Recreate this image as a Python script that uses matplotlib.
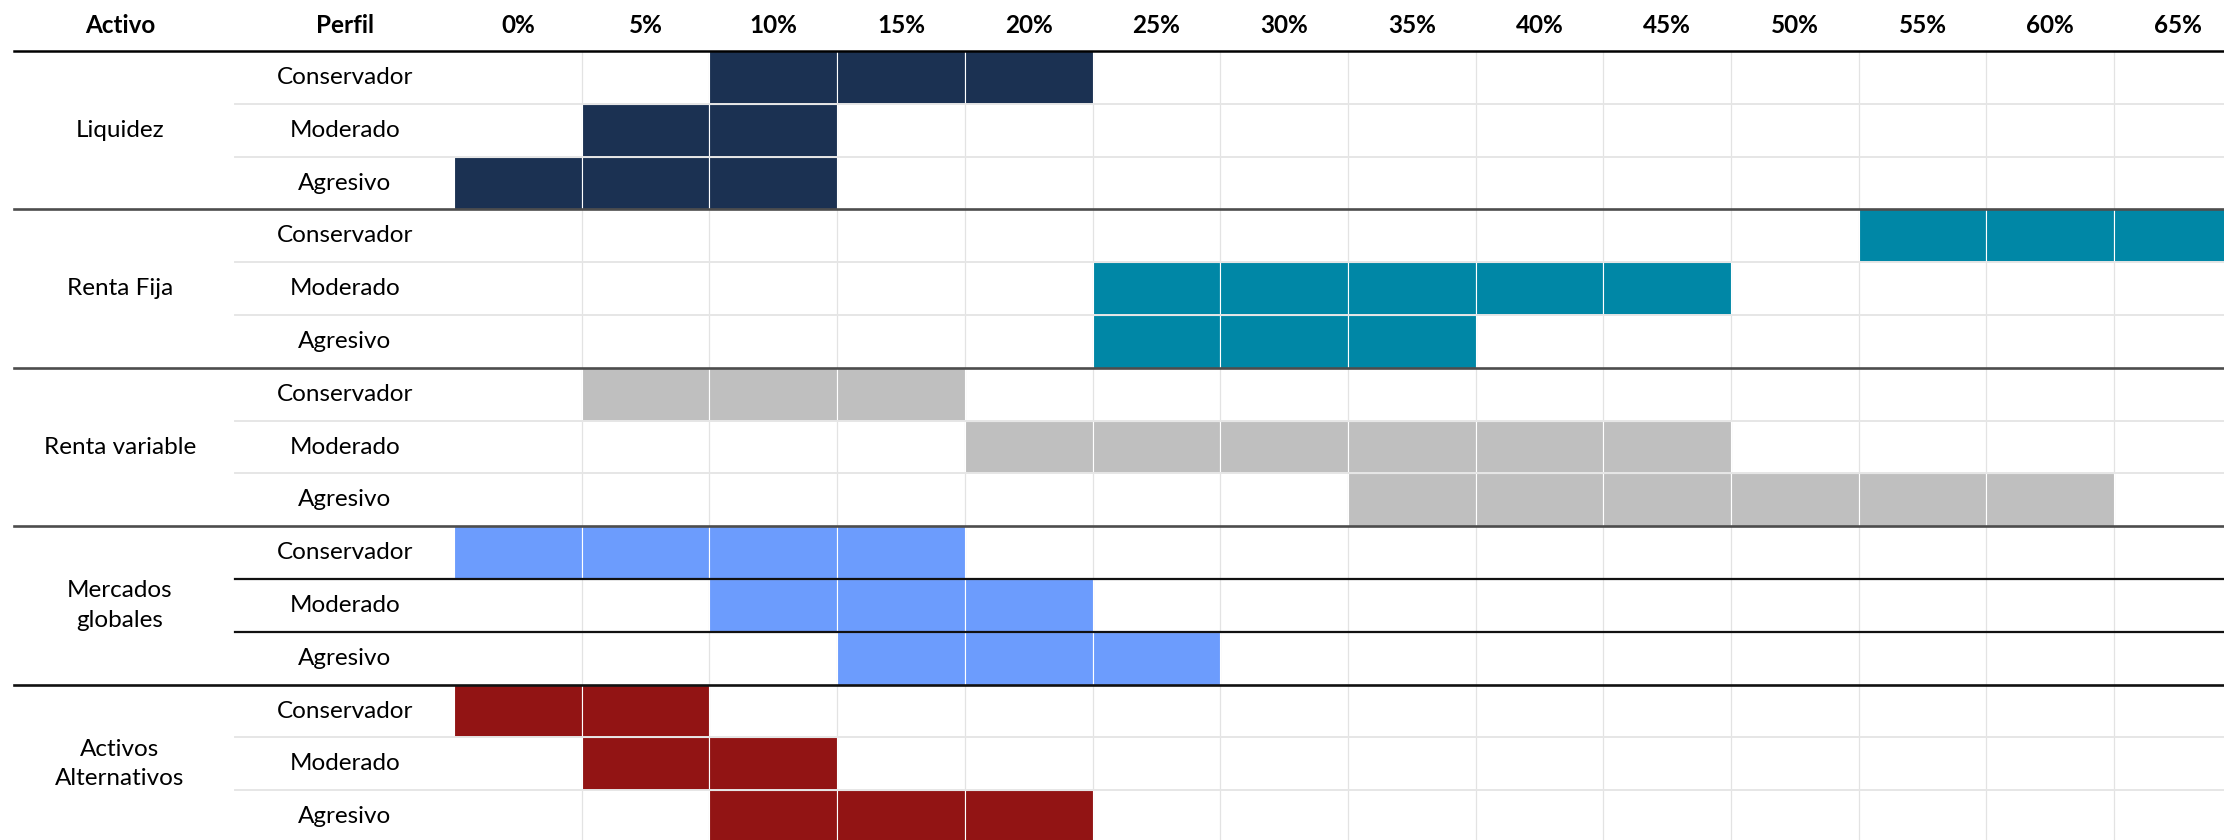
import matplotlib.pyplot as plt

plt.rcParams['font.family'] = ['Lato', 'DejaVu Sans']

assets = ['Liquidez', 'Renta Fija', 'Renta variable', 'Mercados\nglobales', 'Activos\nAlternativos']
profiles = ['Conservador', 'Moderado', 'Agresivo']
pct_labels = ['0%', '5%', '10%', '15%', '20%', '25%', '30%', '35%',
              '40%', '45%', '50%', '55%', '60%', '65%']
asset_colors = ['#1b3152', '#0087a6', '#bfbfbf', '#6c9cfd', '#921414']

# allocation ranges (% from, % to) per profile: Conservador, Moderado, Agresivo
liquidez = [(10, 20), (5, 10), (0, 10)]
renta_fija = [(55, 65), (25, 45), (25, 35)]
renta_variable = [(5, 15), (20, 45), (35, 60)]
mercados_globales = [(0, 15), (10, 20), (15, 25)]
alternativos = [(0, 5), (5, 10), (10, 20)]
ranges = [liquidez, renta_fija, renta_variable, mercados_globales, alternativos]

# layout (pixels of the 2224x840 output)
col_w = 127.7
row_h = 52.8
x0_px = 454
y0_px = 51

fig = plt.figure(figsize=(22.24, 8.4), dpi=100)
ax = fig.add_axes([0, 0, 1, 1])
ax.set_xlim(-x0_px / col_w, (2224 - x0_px) / col_w)
ax.set_ylim((840 - y0_px) / row_h, -y0_px / row_h)
ax.axis('off')

n_rows = len(assets) * len(profiles)
n_cols = len(pct_labels)

# vertical grid
for c in range(1, n_cols):
    ax.plot([c, c], [0, n_rows], color='#e3e3e3', lw=0.9, zorder=1)

# filled cells
for a, asset_ranges in enumerate(ranges):
    for p, (lo, hi) in enumerate(asset_ranges):
        row = a * 3 + p
        cols = list(range(lo // 5, hi // 5 + 1))
        ax.bar([c + 0.5 for c in cols], [1] * len(cols), bottom=row, width=1,
               color=asset_colors[a], edgecolor='white', linewidth=0.8, zorder=2)

# horizontal lines
perfil_x = (235 - x0_px) / col_w
activo_x = (14 - x0_px) / col_w
ax.plot([activo_x, n_cols], [0, 0], color='black', lw=1.8, zorder=4)
group_colors = ['#4d4d4d', '#4d4d4d', '#4d4d4d', '#111111']
for a in range(len(assets)):
    for p in (1, 2):
        inner = '#111111' if a == 3 else '#e6e6e6'
        ax.plot([perfil_x, n_cols], [a * 3 + p] * 2, color=inner,
                lw=1.6 if a == 3 else 1.4, zorder=3)
    if a < len(assets) - 1:
        ax.plot([activo_x, n_cols], [a * 3 + 3] * 2, color=group_colors[a], lw=1.9, zorder=4)

# texts
fs = 17.5
hdr_y = (25 - y0_px) / row_h
activo_cx = (120 - x0_px) / col_w
perfil_cx = (345 - x0_px) / col_w
ax.text(activo_cx, hdr_y, 'Activo', ha='center', va='center', fontsize=fs, fontweight='bold')
ax.text(perfil_cx, hdr_y, 'Perfil', ha='center', va='center', fontsize=fs, fontweight='bold')
for c, lab in enumerate(pct_labels):
    ax.text(c + 0.5, hdr_y, lab, ha='center', va='center', fontsize=fs, fontweight='bold')

for a, name in enumerate(assets):
    ax.text(activo_cx, a * 3 + 1.5, name, ha='center', va='center', fontsize=fs,
            linespacing=1.5)
    for p, prof in enumerate(profiles):
        ax.text(perfil_cx, a * 3 + p + 0.5, prof, ha='center', va='center', fontsize=fs)

fig.savefig('out.png', dpi=100)
